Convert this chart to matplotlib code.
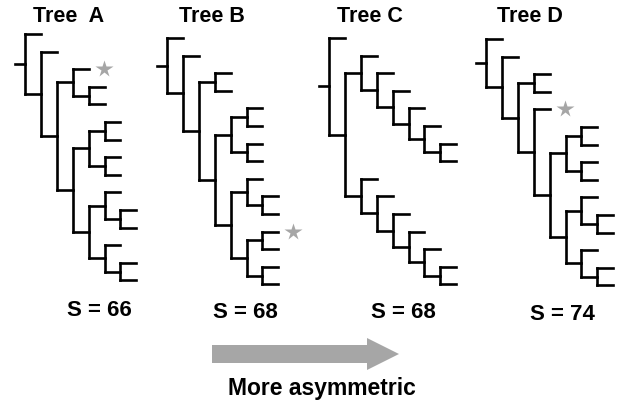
import matplotlib.pyplot as plt
from matplotlib.patches import FancyArrow

# trees as nested tuples; 'x' = leaf, '*' = starred leaf
tree_a = ('x', ('x', (('*', ('x', 'x')),
                      ((('x', 'x'), ('x', 'x')),
                       (('x', ('x', 'x')), ('x', ('x', 'x')))))))
tree_b = ('x', ('x', (('x', 'x'),
                      ((('x', 'x'), ('x', 'x')),
                       (('x', ('x', 'x')), (('*', 'x'), ('x', 'x')))))))
cat = ('x', ('x', ('x', ('x', ('x', ('x', 'x'))))))
tree_c = ('x', (cat, cat))
tree_d = ('x', ('x', (('x', 'x'),
                      ('*', ((('x', 'x'), ('x', 'x')),
                             (('x', ('x', 'x')), ('x', ('x', 'x'))))))))

trees = [tree_a, tree_b, tree_c, tree_d]
titles = ['Tree  A', 'Tree B', 'Tree C', 'Tree D']
s_values = [66, 68, 68, 74]
arrow_label = 'More asymmetric'

# layout (pixels)
root_x = [25, 167, 329, 486]
first_leaf_y = [34, 38, 38, 39]
title_x = [69, 212, 370, 530]
s_x = [99, 245, 403, 562]
s_y = [310, 312, 312, 314]

FONT = 'Liberation Sans'
LW = 1.9


def draw_tree(ax, tree, x0, y0, dx=15.9, dy=17.6):
    count = [0]

    def walk(node, depth):
        x = x0 + depth * dx
        if isinstance(node, str):
            y = y0 + count[0] * dy
            count[0] += 1
            if node == '*':
                ax.plot(x + 15, y, marker='*', ms=13, color='#a6a6a6', mec='none')
            return x, y
        pts = [walk(c, depth + 1) for c in node]
        ys = [p[1] for p in pts]
        ax.plot([x, x], [ys[0], ys[-1]], color='black', lw=LW, solid_capstyle='projecting')
        for cx, cy in pts:
            ax.plot([x, cx], [cy, cy], color='black', lw=LW, solid_capstyle='projecting')
        return x, (ys[0] + ys[-1]) / 2

    rx, ry = walk(tree, 0)
    ax.plot([rx - 10, rx], [ry, ry], color='black', lw=LW)


fig = plt.figure(figsize=(6.18, 4.04), dpi=100)
ax = fig.add_axes([0, 0, 1, 1])
ax.set_xlim(0, 618)
ax.set_ylim(404, 0)
ax.axis('off')

for i, t in enumerate(trees):
    draw_tree(ax, t, root_x[i], first_leaf_y[i])
    ax.text(title_x[i], 17, titles[i], ha='center', va='center',
            fontsize=15.5, fontweight='bold', family=FONT)
    ax.text(s_x[i], s_y[i], 'S = %d' % s_values[i], ha='center', va='center',
            fontsize=16, fontweight='bold', family=FONT)

ax.add_patch(FancyArrow(212, 354, 187, 0, width=18, head_width=32, head_length=32,
                        length_includes_head=True, color='#a6a6a6', lw=0))
ax.text(322, 388, arrow_label, ha='center', va='center',
        fontsize=16.5, fontweight='bold', family=FONT)

plt.savefig('out.png', dpi=100)
